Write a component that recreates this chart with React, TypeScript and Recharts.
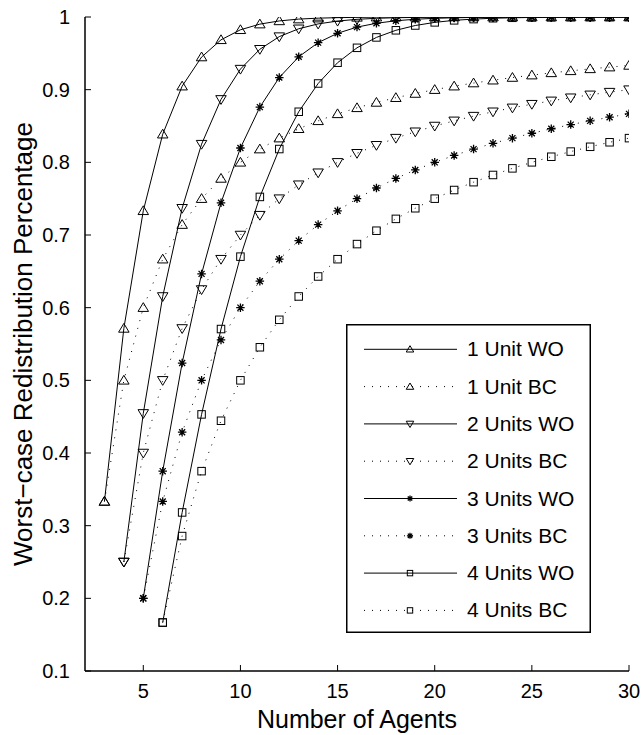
import React from "react";
import { LineChart, Line, XAxis, YAxis, Legend } from "recharts";

// Number of agents (x categories)
const agents = [3, 4, 5, 6, 7, 8, 9, 10, 11, 12, 13, 14, 15, 16, 17, 18, 19, 20, 21, 22, 23, 24, 25, 26, 27, 28, 29, 30];

// Series values aligned to `agents` (null = no point)
const wo1 = [0.3333, 0.5714, 0.7333, 0.8387, 0.9048, 0.9449, 0.9686, 0.9824, 0.9902, 0.9946, 0.9971, 0.9984, 0.9991, 0.9995, 0.9998, 0.9999, 1, 1, 1, 1, 1, 1, 1, 1, 1, 1, 1, 1];
const bc1 = [0.3333, 0.5, 0.6, 0.6667, 0.7143, 0.75, 0.7778, 0.8, 0.8182, 0.8333, 0.8462, 0.8571, 0.8667, 0.875, 0.8824, 0.8889, 0.8947, 0.9, 0.9048, 0.9091, 0.913, 0.9167, 0.92, 0.9231, 0.9259, 0.9286, 0.931, 0.9333];
const wo2 = [null, 0.25, 0.4545, 0.6154, 0.7368, 0.825, 0.8866, 0.9283, 0.9556, 0.973, 0.9838, 0.9905, 0.9944, 0.9968, 0.9982, 0.999, 0.9994, 0.9997, 0.9998, 0.9999, 0.9999, 1, 1, 1, 1, 1, 1, 1];
const bc2 = [null, 0.25, 0.4, 0.5, 0.5714, 0.625, 0.6667, 0.7, 0.7273, 0.75, 0.7692, 0.7857, 0.8, 0.8125, 0.8235, 0.8333, 0.8421, 0.85, 0.8571, 0.8636, 0.8696, 0.875, 0.88, 0.8846, 0.8889, 0.8929, 0.8966, 0.9];
const wo3 = [null, null, 0.2, 0.375, 0.5238, 0.6465, 0.7443, 0.8197, 0.876, 0.9167, 0.9452, 0.9647, 0.9776, 0.9861, 0.9914, 0.9948, 0.9969, 0.9982, 0.9989, 0.9994, 0.9996, 0.9998, 0.9999, 0.9999, 1, 1, 1, 1];
const bc3 = [null, null, 0.2, 0.3333, 0.4286, 0.5, 0.5556, 0.6, 0.6364, 0.6667, 0.6923, 0.7143, 0.7333, 0.75, 0.7647, 0.7778, 0.7895, 0.8, 0.8095, 0.8182, 0.8261, 0.8333, 0.84, 0.8462, 0.8519, 0.8571, 0.8621, 0.8667];
const wo4 = [null, null, null, 0.1667, 0.3182, 0.4531, 0.5706, 0.6702, 0.7524, 0.8183, 0.8696, 0.9085, 0.9371, 0.9576, 0.9719, 0.9817, 0.9883, 0.9926, 0.9954, 0.9971, 0.9983, 0.9989, 0.9994, 0.9996, 0.9998, 0.9999, 0.9999, 1];
const bc4 = [null, null, null, 0.1667, 0.2857, 0.375, 0.4444, 0.5, 0.5455, 0.5833, 0.6154, 0.6429, 0.6667, 0.6875, 0.7059, 0.7222, 0.7368, 0.75, 0.7619, 0.7727, 0.7826, 0.7917, 0.8, 0.8077, 0.8148, 0.8214, 0.8276, 0.8333];

// Tick labels
const xTicks = [5, 10, 15, 20, 25, 30];
const yTicks = [0.1, 0.2, 0.3, 0.4, 0.5, 0.6, 0.7, 0.8, 0.9, 1];

const seriesNames = ["1 Unit WO", "1 Unit BC", "2 Units WO", "2 Units BC", "3 Units WO", "3 Units BC", "4 Units WO", "4 Units BC"];

type Marker = "up" | "down" | "star" | "square";

const seriesDefs: { key: string; name: string; values: (number | null)[]; marker: Marker; dotted: boolean }[] = [
  { key: "wo1", name: seriesNames[0], values: wo1, marker: "up", dotted: false },
  { key: "bc1", name: seriesNames[1], values: bc1, marker: "up", dotted: true },
  { key: "wo2", name: seriesNames[2], values: wo2, marker: "down", dotted: false },
  { key: "bc2", name: seriesNames[3], values: bc2, marker: "down", dotted: true },
  { key: "wo3", name: seriesNames[4], values: wo3, marker: "star", dotted: false },
  { key: "bc3", name: seriesNames[5], values: bc3, marker: "star", dotted: true },
  { key: "wo4", name: seriesNames[6], values: wo4, marker: "square", dotted: false },
  { key: "bc4", name: seriesNames[7], values: bc4, marker: "square", dotted: true },
];

const data = agents.map((n, i) => {
  const row: Record<string, number | null> = { n };
  seriesDefs.forEach((s) => {
    row[s.key] = s.values[i];
  });
  return row;
});

const FONT = "'Liberation Sans', Arial, Helvetica, sans-serif";
const DOTS = "1 7";

function markerShape(kind: Marker, cx: number, cy: number, s: number, key?: string | number) {
  const st = { stroke: "#000", strokeWidth: 1, fill: "none" } as const;
  if (kind === "up") {
    const d = `M${cx},${cy - s} L${cx + s * 1.05},${cy + s * 0.75} L${cx - s * 1.05},${cy + s * 0.75} Z`;
    return <path key={key} d={d} {...st} />;
  }
  if (kind === "down") {
    const d = `M${cx},${cy + s} L${cx + s * 1.05},${cy - s * 0.75} L${cx - s * 1.05},${cy - s * 0.75} Z`;
    return <path key={key} d={d} {...st} />;
  }
  if (kind === "square") {
    const h = s * 0.75;
    return <rect key={key} x={cx - h} y={cy - h} width={2 * h} height={2 * h} {...st} />;
  }
  const r = s * 0.85;
  const q = r * 0.7071;
  const d = `M${cx - r},${cy} L${cx + r},${cy} M${cx},${cy - r} L${cx},${cy + r} M${cx - q},${cy - q} L${cx + q},${cy + q} M${cx - q},${cy + q} L${cx + q},${cy - q}`;
  return <path key={key} d={d} stroke="#000" strokeWidth={1.3} fill="none" />;
}

const makeDot = (kind: Marker) => (props: any) => {
  const { cx, cy, index, value } = props;
  const k = `${kind}-${index}`;
  if (cx == null || cy == null || value == null || Number.isNaN(cy)) return <g key={k} />;
  return markerShape(kind, cx, cy, 5, k);
};

const BottomTick = (p: any) => (
  <g>
    <line x1={p.x} x2={p.x} y1={p.y} y2={p.y - 6} stroke="#000" strokeWidth={1} />
    <text x={p.x} y={p.y + 27} textAnchor="middle" fontSize={20} fontFamily={FONT} fill="#000">
      {p.payload.value}
    </text>
  </g>
);
const TopTick = (p: any) => (
  <line x1={p.x} x2={p.x} y1={p.y} y2={p.y + 6} stroke="#000" strokeWidth={1} />
);
const LeftTick = (p: any) => (
  <g>
    <line x1={p.x} x2={p.x + 6} y1={p.y} y2={p.y} stroke="#000" strokeWidth={1} />
    <text x={p.x - 15} y={p.y + 7} textAnchor="end" fontSize={20} fontFamily={FONT} fill="#000">
      {p.payload.value === 1 ? "1" : Number(p.payload.value).toFixed(1)}
    </text>
  </g>
);
const RightTick = (p: any) => (
  <line x1={p.x} x2={p.x - 6} y1={p.y} y2={p.y} stroke="#000" strokeWidth={1} />
);

const XTitle = (props: any) => {
  const vb = props.viewBox || { x: 0, y: 0, width: 0, height: 0 };
  return (
    <text x={vb.x + vb.width / 2} y={vb.y + 57} textAnchor="middle" fontSize={25} fontFamily={FONT} fill="#000">
      Number of Agents
    </text>
  );
};
const YTitle = (props: any) => {
  const vb = props.viewBox || { x: 0, y: 0, width: 0, height: 0 };
  const x = vb.x + 32;
  const y = vb.y + vb.height / 2;
  return (
    <text x={x} y={y} transform={`rotate(-90, ${x}, ${y})`} textAnchor="middle" fontSize={26} fontFamily={FONT} fill="#000">
      Worst−case Redistribution Percentage
    </text>
  );
};

const LegendBox = () => {
  const w = 245;
  const h = 309;
  const rowY0 = 25.3;
  const rowStep = 37.3;
  return (
    <svg width={w} height={h} style={{ display: "block" }}>
      <rect x={0.75} y={0.75} width={w - 1.5} height={h - 1.5} fill="#fff" stroke="#000" strokeWidth={1.5} />
      {seriesDefs.map((s, i) => {
        const y = rowY0 + i * rowStep;
        return (
          <g key={s.key}>
            <line x1={18} x2={111} y1={y} y2={y} stroke="#000" strokeWidth={1} strokeDasharray={s.dotted ? "1 7" : undefined} />
            {markerShape(s.marker, 64, y, 3.6)}
            <text x={121} y={y + 7} fontSize={21} fontFamily={FONT} fill="#000">
              {s.name}
            </text>
          </g>
        );
      })}
    </svg>
  );
};

export default function App() {
  return (
    <div style={{ position: "absolute", left: 0, top: 0, width: 642, height: 735, background: "#fff" }}>
      <LineChart width={642} height={735} data={data} margin={{ top: 17, right: 13, bottom: 0, left: 0 }}>
        <XAxis
          xAxisId="b"
          dataKey="n"
          type="number"
          domain={[2, 30]}
          ticks={xTicks}
          allowDataOverflow
          height={64}
          tickLine={false}
          tickSize={0}
          tickMargin={0}
          axisLine={{ stroke: "#000", strokeWidth: 1.5 }}
          tick={<BottomTick />}
          interval={0}
          label={<XTitle />}
        />
        <XAxis
          xAxisId="t"
          orientation="top"
          dataKey="n"
          type="number"
          domain={[2, 30]}
          ticks={xTicks}
          allowDataOverflow
          height={0}
          tickLine={false}
          tickSize={0}
          tickMargin={0}
          axisLine={{ stroke: "#000", strokeWidth: 1.5 }}
          tick={<TopTick />}
          interval={0}
        />
        <YAxis
          yAxisId="l"
          type="number"
          domain={[0.1, 1]}
          ticks={yTicks}
          allowDataOverflow
          width={85}
          tickLine={false}
          tickSize={0}
          tickMargin={0}
          axisLine={{ stroke: "#000", strokeWidth: 1.5 }}
          tick={<LeftTick />}
          interval={0}
          label={<YTitle />}
        />
        <YAxis
          yAxisId="r"
          orientation="right"
          type="number"
          domain={[0.1, 1]}
          ticks={yTicks}
          allowDataOverflow
          width={0}
          tickLine={false}
          tickSize={0}
          tickMargin={0}
          axisLine={{ stroke: "#000", strokeWidth: 1.5 }}
          tick={<RightTick />}
          interval={0}
        />
        {seriesDefs.map((s) => (
          <Line
            key={s.key}
            xAxisId="b"
            yAxisId="l"
            dataKey={s.key}
            name={s.name}
            type="linear"
            stroke="#000"
            strokeWidth={1}
            strokeDasharray={s.dotted ? DOTS : undefined}
            dot={makeDot(s.marker)}
            activeDot={false}
            connectNulls={false}
            isAnimationActive={false}
          />
        ))}
        <Legend
          layout="vertical"
          align="center"
          verticalAlign="middle"
          content={<LegendBox />}
          wrapperStyle={{ position: "absolute", left: 346, top: 324, width: 245, height: 309 }}
        />
      </LineChart>
    </div>
  );
}
